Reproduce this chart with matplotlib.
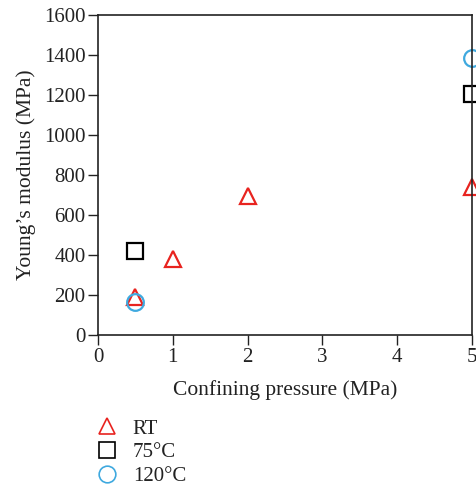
import matplotlib
matplotlib.use("Agg")
import matplotlib.pyplot as plt
from matplotlib.lines import Line2D

plt.rcParams['font.family'] = ['Liberation Serif', 'DejaVu Serif']

rt_x = [0.5, 1, 2, 5]
rt_y = [188, 380, 695, 738]
t75_x = [0.5, 5]
t75_y = [418, 1205]
t120_x = [0.5, 5]
t120_y = [165, 1385]
labels = ["RT", "75°C", "120°C"]
xticks = [0, 1, 2, 3, 4, 5]
yticks = [0, 200, 400, 600, 800, 1000, 1200, 1400, 1600]

fig = plt.figure(figsize=(4.77, 4.90), dpi=100)
ax = fig.add_axes([98/477, 1-335/490, 374/477, 320/490])

ms = 12
ax.plot(t75_x, t75_y, linestyle='none', marker='s', ms=ms, mfc='none', mec='black', mew=1.6, clip_on=False)
ax.plot(rt_x, rt_y, linestyle='none', marker='^', ms=ms, mfc='none', mec='#e8231f', mew=1.6, clip_on=False)
ax.plot(t120_x, t120_y, linestyle='none', marker='o', ms=ms, mfc='none', mec='#3fa9df', mew=1.6, clip_on=False)

ax.set_xlim(0, 5)
ax.set_ylim(0, 1600)
ax.set_xticks(xticks)
ax.set_yticks(yticks)
ax.tick_params(direction='out', length=7, width=1, labelsize=15, colors='#222222', pad=2)
for s in ax.spines.values():
    s.set_linewidth(1.2)
    s.set_color('#222222')
ax.set_xlabel("Confining pressure (MPa)", fontsize=15.5, color='#222222', labelpad=10)
ax.set_ylabel("Young’s modulus (MPa)", fontsize=15.5, color='#222222', labelpad=6)

handles = [
    Line2D([], [], linestyle='none', marker='^', ms=12, mfc='none', mec='#e8231f', mew=1.2),
    Line2D([], [], linestyle='none', marker='s', ms=12, mfc='none', mec='black', mew=1.2),
    Line2D([], [], linestyle='none', marker='o', ms=12, mfc='none', mec='#3fa9df', mew=1.2),
]
fig.legend(handles, labels, loc='upper left', bbox_to_anchor=(90/477, 1-419/490),
           frameon=False, fontsize=15, handletextpad=0.45, labelspacing=0.2,
           borderaxespad=0, borderpad=0, labelcolor='#222222', handlelength=1.6)

fig.savefig("out.png", dpi=100)
